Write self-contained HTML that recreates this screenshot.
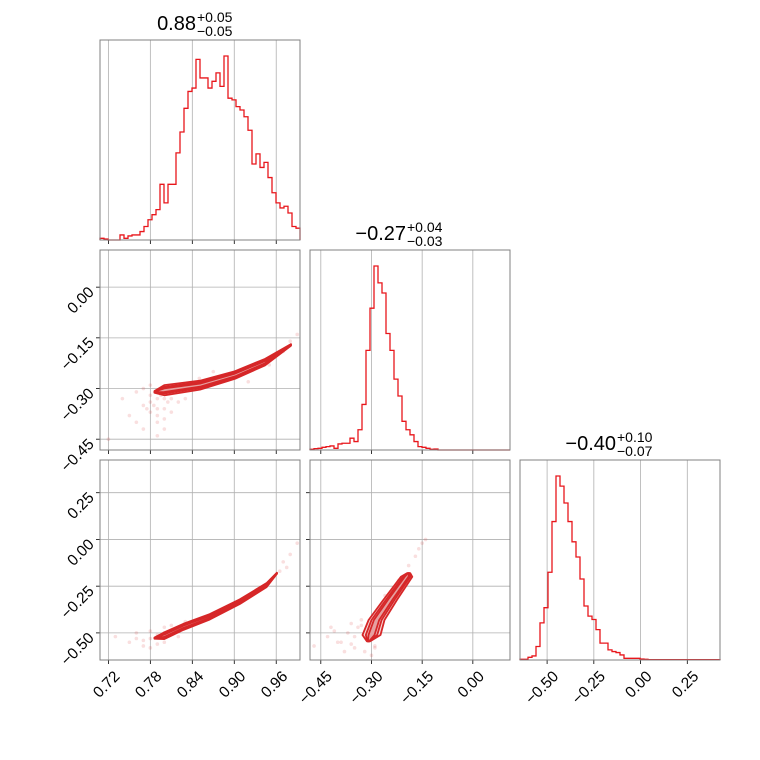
<!DOCTYPE html>
<html><head><meta charset="utf-8"><style>
html,body{margin:0;padding:0;background:#fff}
svg{display:block;font-family:"Liberation Sans","DejaVu Sans",sans-serif}
</style></head><body>
<svg id="c" width="760" height="760" viewBox="0 0 760 760"></svg>
<script>
// ---- data ----
const hist0 = [5,3,0,0,0,15,5,12,15,15,25,40,60,75,90,165,110,165,165,258,320,390,440,450,535,480,480,450,470,495,455,545,420,415,395,385,365,325,225,255,215,230,185,140,110,95,100,80,40,35];
const hist1 = [2,4,5,8,10,12,5,18,20,20,35,25,60,135,295,420,545,495,465,345,295,210,160,85,60,45,25,10,8,5,2,3,0,0,0,0,0,0,0,0,0,0,0,0,0,0,0,0,0,0];
const hist2 = [2,2,8,12,40,110,155,260,410,545,515,465,410,350,305,240,160,130,120,90,50,50,30,25,22,15,5,5,5,5,3,2,1,1,1,1,1,1,1,1,1,1,1,1,1,1,1,1,1,1];
const titles = [["0.88","+0.05","\u22120.05"],["\u22120.27","+0.04","\u22120.03"],["\u22120.40","+0.10","\u22120.07"]];
const ranges = [[0.708,0.994],[-0.482,0.110],[-0.645,0.425]];
const ticks0 = [0.72,0.78,0.84,0.90,0.96];
const ticks1 = [-0.45,-0.30,-0.15,0.00];
const ticks2 = [-0.50,-0.25,0.00,0.25];
const tickLabels0 = ["0.72","0.78","0.84","0.90","0.96"];
const tickLabels1 = ["\u22120.45","\u22120.30","\u22120.15","0.00"];
const tickLabels2 = ["\u22120.50","\u22120.25","0.00","0.25"];
// ridge centerlines (data) for 2D panels
const ridge10x = [0.786,0.800,0.851,0.901,0.944,0.981];
const ridge10y = [-0.310,-0.305,-0.290,-0.260,-0.222,-0.171];
const ridge20x = [0.786,0.800,0.827,0.865,0.908,0.946,0.961];
const ridge20y = [-0.528,-0.515,-0.468,-0.414,-0.333,-0.245,-0.181];
const ridge21x = [-0.309,-0.300,-0.285,-0.245,-0.196,-0.190];
const ridge21y = [-0.545,-0.511,-0.431,-0.324,-0.200,-0.180];
// contour half-widths (data units) outer/mid/inner
const wid10 = [0.017,0.011,0.006];
const wid20 = [0.020,0.013,0.007];
const wid21 = [0.030,0.019,0.010];
// scatter samples
const pts10x = [0.72,0.74,0.75,0.76,0.77,0.77,0.78,0.78,0.79,0.79,0.79,0.80,0.80,0.80,0.81,0.81,0.82,0.82,0.83,0.78,0.77,0.76,0.79,0.80,0.81,0.84,0.85,0.87,0.92,0.95,0.97,0.99,0.98,0.79,0.78,0.80,0.775,0.785,0.795,0.805];
const pts10y = [-0.45,-0.33,-0.38,-0.31,-0.35,-0.42,-0.29,-0.37,-0.33,-0.40,-0.44,-0.31,-0.36,-0.39,-0.33,-0.30,-0.34,-0.29,-0.33,-0.32,-0.30,-0.40,-0.36,-0.42,-0.37,-0.30,-0.27,-0.25,-0.28,-0.23,-0.19,-0.14,-0.16,-0.38,-0.34,-0.33,-0.36,-0.35,-0.32,-0.34];
const pts20x = [0.73,0.75,0.76,0.77,0.78,0.78,0.79,0.79,0.80,0.80,0.81,0.82,0.83,0.77,0.78,0.79,0.76,0.80,0.82,0.85,0.88,0.97,0.98,0.99,0.975,0.965];
const pts20y = [-0.52,-0.55,-0.50,-0.57,-0.53,-0.49,-0.56,-0.51,-0.47,-0.55,-0.46,-0.49,-0.44,-0.54,-0.58,-0.52,-0.53,-0.50,-0.52,-0.43,-0.38,-0.12,-0.08,-0.02,-0.15,-0.17];
const pts21x = [-0.47,-0.43,-0.41,-0.39,-0.37,-0.36,-0.35,-0.34,-0.33,-0.32,-0.31,-0.30,-0.29,-0.28,-0.27,-0.38,-0.40,-0.35,-0.33,-0.26,-0.22,-0.19,-0.17,-0.16,-0.15,-0.14,-0.31,-0.29,-0.36,-0.42];
const pts21y = [-0.57,-0.52,-0.49,-0.55,-0.50,-0.45,-0.58,-0.47,-0.43,-0.60,-0.54,-0.62,-0.57,-0.45,-0.40,-0.60,-0.55,-0.52,-0.46,-0.30,-0.22,-0.14,-0.09,-0.05,-0.02,0.00,-0.48,-0.58,-0.56,-0.47];

// ---- drawing ----
const NS="http://www.w3.org/2000/svg";
const svg=document.getElementById('c');
function mk(tag,attrs,parent){const e=document.createElementNS(NS,tag);for(const k in attrs)e.setAttribute(k,attrs[k]);(parent||svg).appendChild(e);return e;}
const X0=[100,310,520], Y0=[40,250,460], S=200;
const tickSets=[ticks0,ticks1,ticks2], labelSets=[tickLabels0,tickLabels1,tickLabels2];
function sx(col,v){const r=ranges[col];return X0[col]+(v-r[0])/(r[1]-r[0])*S;}
function sy(row,v){const r=ranges[row];return Y0[row]+S-(v-r[0])/(r[1]-r[0])*S;}
const RED="#d62728";

function panel(row,col){
  const g=mk('g',{});
  
  
  const x=X0[col],y=Y0[row];
  tickSets[col].forEach(t=>{const l=mk('line',{x1:sx(col,t),x2:sx(col,t),y1:y,y2:y+S,stroke:'#b0b0b0','stroke-width':0.8},g);
    
    const tk=mk('line',{x1:sx(col,t),x2:sx(col,t),y1:y+S,y2:y+S+4,stroke:'#000','stroke-width':0.8},g);
    });
  if(row!==col){tickSets[row].forEach(t=>{const l=mk('line',{x1:x,x2:x+S,y1:sy(row,t),y2:sy(row,t),stroke:'#b0b0b0','stroke-width':0.8},g);
    
    const tk=mk('line',{x1:x-4,x2:x,y1:sy(row,t),y2:sy(row,t),stroke:'#000','stroke-width':0.8},g);
    });}
  return g;
}
function frame(row,col,g){const f=mk('rect',{x:X0[col],y:Y0[row],width:S,height:S,fill:'none',stroke:'#808080','stroke-width':1},g);
  }

function drawHist(i,vals){
  const g=panel(i,i);
  const mx=Math.max(...vals);const n=vals.length;const bw=S/n;
  let d='M'+X0[i]+','+(Y0[i]+S);
  vals.forEach((v,k)=>{const yy=Y0[i]+S-v/mx*S*0.92;d+=' L'+(X0[i]+k*bw)+','+yy+' L'+(X0[i]+(k+1)*bw)+','+yy;});
  d+=' L'+(X0[i]+S)+','+(Y0[i]+S);
  const p=mk('path',{d:d,fill:'none',stroke:'#e8161b','stroke-width':1.3},g);
  
  frame(i,i,g);
  const t=mk('text',{x:X0[i]+S/2-4,y:Y0[i]-10,'font-size':20,'text-anchor':'end',fill:'#000'});
  
  t.textContent=titles[i][0];
  const sp=mk('text',{x:X0[i]+S/2-3,y:Y0[i]-18,'font-size':14,fill:'#000'});
  sp.textContent=titles[i][1];
  const sb=mk('text',{x:X0[i]+S/2-3,y:Y0[i]-4,'font-size':14,fill:'#000'});
  sb.textContent=titles[i][2];
}
function band(row,col,xs,ys,w,vertical){
  const top=[],bot=[];const n=xs.length;
  xs.forEach((v,k)=>{
    let taper=(k===0||k===n-1)?0.15:1-0.55*k/(n-1);
    if(vertical){top.push([sx(col,v-w*taper),sy(row,ys[k])]);bot.push([sx(col,v+w*taper),sy(row,ys[k])]);}
    else{top.push([sx(col,v),sy(row,ys[k]+w*taper)]);bot.push([sx(col,v),sy(row,ys[k]-w*taper)]);}
  });
  const all=top.concat(bot.reverse());
  return 'M'+all.map(p=>p[0].toFixed(1)+','+p[1].toFixed(1)).join(' L')+' Z';
}
function draw2d(row,col,px,py,rx,ry,wid,vertical){
  const g=panel(row,col);
  px.forEach((v,k)=>{const c=mk('circle',{cx:sx(col,v),cy:sy(row,py[k]),r:1.8,fill:RED,'fill-opacity':0.15},g);
    });
  const fills=['#f7d9d9','#efbdbd','#e6a0a0'];
  wid.forEach((w,k)=>{const p=mk('path',{d:band(row,col,rx,ry,w,vertical),fill:fills[k],stroke:RED,'stroke-width':1.8,'stroke-linejoin':'round'},g);
    });
  frame(row,col,g);
}
drawHist(0,hist0);drawHist(1,hist1);drawHist(2,hist2);
draw2d(1,0,pts10x,pts10y,ridge10x,ridge10y,wid10,false);
draw2d(2,0,pts20x,pts20y,ridge20x,ridge20y,wid20,false);
draw2d(2,1,pts21x,pts21y,ridge21x,ridge21y,wid21,true);

for(let col=0;col<3;col++){
  tickSets[col].forEach((t,k)=>{const xx=sx(col,t)+4,yy=Y0[2]+S+9;
    const e=mk('text',{x:xx,y:yy,'font-size':15.5,'text-anchor':'end',transform:'rotate(-45 '+xx+' '+yy+')',dy:'0.75em',fill:'#000'});
    e.textContent=labelSets[col][k];});
}
for(let row=1;row<3;row++){
  tickSets[row].forEach((t,k)=>{const xx=X0[0]-9,yy=sy(row,t)+2;
    const e=mk('text',{x:xx,y:yy,'font-size':15.5,'text-anchor':'end',transform:'rotate(-45 '+xx+' '+yy+')',dy:'0.35em',fill:'#000'});
    e.textContent=labelSets[row][k];});
}
</script>
</body></html>
